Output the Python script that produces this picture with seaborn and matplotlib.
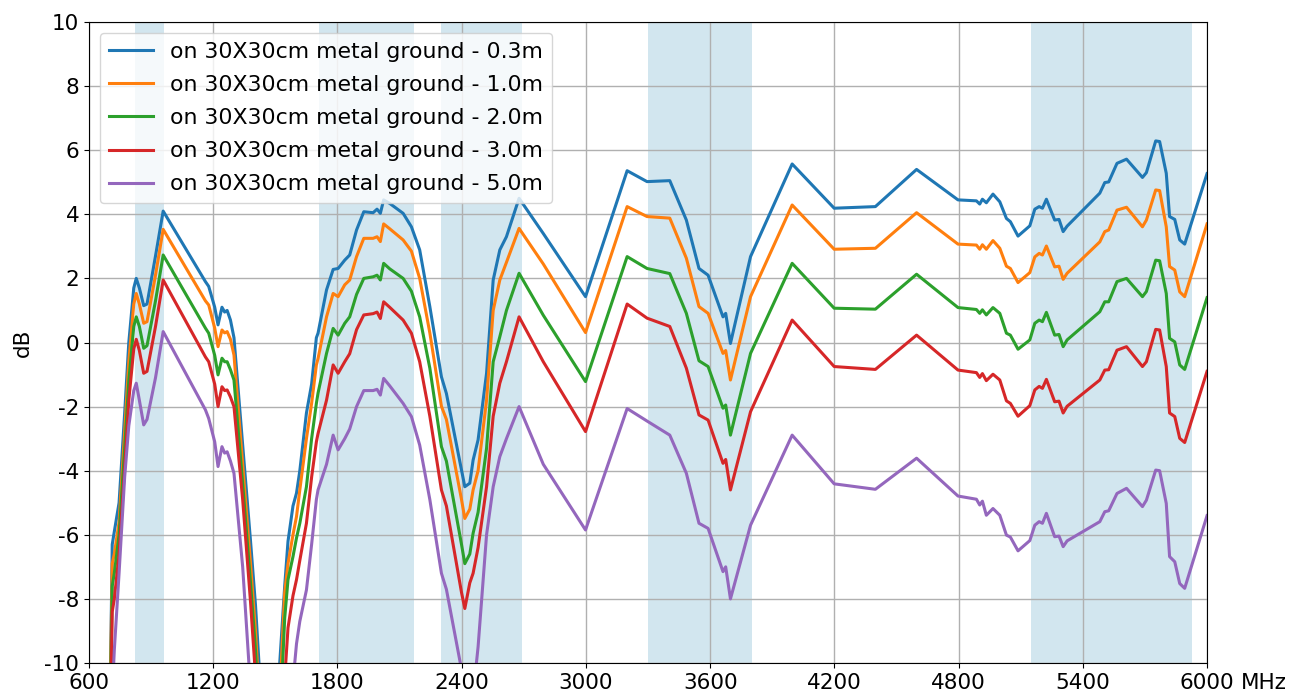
import pandas as pd
import matplotlib
matplotlib.use("Agg")
import matplotlib.pyplot as plt
import seaborn as sns

plt.rcParams['axes.unicode_minus'] = False

# frequency points (MHz), shared by every series
freq_mhz = [
    700, 712, 722, 745, 772, 792, 816, 828, 843, 864, 880, 921, 958, 1162, 1178, 1207, 1223, 1242, 1255, 1267, 1283, 1300,
    1342, 1380, 1404, 1430, 1470, 1510, 1521, 1545, 1561, 1585, 1602, 1618, 1650, 1675, 1698, 1706, 1747, 1779, 1803, 1835,
    1859, 1892, 1927, 1972, 1991, 2007, 2023, 2052, 2117, 2157, 2197, 2246, 2302, 2326, 2399, 2415, 2439, 2455, 2479, 2520,
    2552, 2584, 2616, 2677,
    2794, 2998, 3199, 3295, 3405, 3485, 3546, 3590, 3662, 3675, 3698, 3795, 3996,
    4199, 4398, 4597, 4797, 4886, 4902, 4915, 4934, 4966, 4999, 5031, 5050, 5087,
    5144, 5168, 5189, 5205, 5224, 5264, 5285, 5305, 5324, 5482, 5506, 5525, 5565, 5611, 5688, 5707, 5752, 5771, 5803, 5819,
    5844, 5868, 5892, 6000,
]

db_03m = [
    -12, -6.3, -5.9, -5.0, -2.2, 0.0, 1.7, 2.0, 1.7, 1.15, 1.2, 2.7, 4.1, 1.9, 1.75, 1.1, 0.55, 1.1, 0.95, 1.0, 0.7, 0.15,
    -3.2, -6.2, -8.2, -11, -16, -11.8, -10, -7.6, -6.2, -5.1, -4.7, -4.0, -2.2, -1.3, 0.15, 0.29, 1.64, 2.28, 2.31, 2.57,
    2.73, 3.51, 4.08, 4.05, 4.16, 4.03, 4.45, 4.34, 4.03, 3.61, 2.89, 1.12, -1.07, -1.59, -3.98, -4.5, -4.39, -3.67, -3.04, -0.96,
    1.95, 2.89, 3.3, 4.5,
    3.4, 1.43, 5.36, 5.02, 5.05, 3.82, 2.31, 2.1, 0.8, 0.91, -0.03, 2.68, 5.57,
    4.19, 4.24, 5.4, 4.45, 4.42, 4.32, 4.47, 4.36, 4.63, 4.39, 3.87, 3.77, 3.32,
    3.64, 4.16, 4.24, 4.19, 4.47, 3.82, 3.84, 3.46, 3.63, 4.66, 4.99, 5.01, 5.59, 5.72, 5.15, 5.3, 6.29, 6.27, 5.28, 3.93,
    3.84, 3.2, 3.07, 5.27,
]

db_10m = [
    -12, -6.9, -6.6, -5.6, -2.8, -0.6, 1.2, 1.53, 1.2, 0.6, 0.65, 2.1, 3.53, 1.3, 1.17, 0.45, -0.13, 0.39, 0.3, 0.34, 0.1, -0.39,
    -3.8, -6.9, -9.0, -12, -16, -13, -11, -7.8, -6.9, -6.0, -5.43, -4.6, -3.0, -1.9, -0.7, -0.5, 0.8, 1.53, 1.43, 1.8,
    1.95, 2.68, 3.25, 3.25, 3.3, 3.15, 3.7, 3.55, 3.2, 2.85, 2.0, 0.3, -1.99, -2.4, -4.9, -5.49, -5.2, -4.6, -4.0, -1.8,
    1.0, 1.95, 2.5, 3.56,
    2.45, 0.31, 4.24, 3.93, 3.88, 2.63, 1.12, 0.91, -0.34, -0.25, -1.17, 1.43, 4.29,
    2.91, 2.94, 4.05, 3.07, 3.04, 2.91, 3.05, 2.91, 3.18, 2.94, 2.38, 2.31, 1.87,
    2.18, 2.67, 2.78, 2.73, 3.01, 2.36, 2.38, 1.97, 2.16, 3.14, 3.46, 3.51, 4.13, 4.22, 3.61, 3.82, 4.76, 4.74, 3.61, 2.37,
    2.26, 1.58, 1.43, 3.7,
]

db_20m = [
    -12.5, -7.6, -7.2, -6.0, -3.3, -1.2, 0.5, 0.8, 0.5, -0.18, -0.1, 1.3, 2.73, 0.45, 0.29, -0.4, -1.01, -0.49, -0.6, -0.6, -0.85, -1.17,
    -4.4, -7.5, -9.6, -12.5, -16, -14, -12, -8.6, -7.4, -6.68, -6.1, -5.64, -4.5, -3.0, -1.9, -1.58, -0.34, 0.44, 0.23, 0.6,
    0.8, 1.5, 2.0, 2.05, 2.1, 1.95, 2.47, 2.3, 2.0, 1.6, 0.8, -0.8, -3.25, -3.7, -6.3, -6.9, -6.6, -5.95, -5.3, -3.3,
    -0.6, 0.18, 1.0, 2.16,
    0.85, -1.22, 2.68, 2.31, 2.15, 0.91, -0.57, -0.75, -2.05, -1.95, -2.89, -0.34, 2.47,
    1.07, 1.04, 2.13, 1.09, 1.03, 0.91, 1.02, 0.86, 1.09, 0.91, 0.29, 0.23, -0.21,
    0.08, 0.6, 0.7, 0.65, 0.94, 0.23, 0.25, -0.13, 0.08, 0.96, 1.27, 1.27, 1.9, 2.0, 1.43, 1.59, 2.57, 2.55, 1.53, 0.13,
    0.02, -0.7, -0.84, 1.4,
]

db_30m = [
    -13, -8.4, -8.0, -6.6, -3.9, -1.8, -0.2, 0.1, -0.25, -0.96, -0.9, 0.5, 1.95, -0.45, -0.6, -1.3, -2.0, -1.38, -1.5, -1.48, -1.7, -2.0,
    -4.9, -8.1, -10.4, -13, -16, -15, -13, -10.5, -8.9, -7.9, -7.4, -6.8, -5.64, -4.2, -3.1, -2.84, -1.8, -0.7, -0.96, -0.6,
    -0.35, 0.4, 0.86, 0.9, 0.95, 0.75, 1.27, 1.1, 0.7, 0.29, -0.6, -2.3, -4.6, -5.1, -7.8, -8.3, -7.5, -7.2, -6.4, -4.5,
    -2.3, -1.27, -0.6, 0.8,
    -0.6, -2.78, 1.2, 0.76, 0.5, -0.8, -2.26, -2.42, -3.77, -3.65, -4.6, -2.16, 0.7,
    -0.75, -0.84, 0.23, -0.86, -0.94, -1.09, -0.97, -1.19, -0.99, -1.17, -1.82, -1.9, -2.3,
    -1.97, -1.48, -1.37, -1.43, -1.15, -1.85, -1.83, -2.2, -1.99, -1.17, -0.86, -0.85, -0.24, -0.13, -0.75, -0.6, 0.41, 0.39, -0.75, -2.2,
    -2.31, -2.99, -3.12, -0.9,
]

db_50m = [
    -15, -11, -9.6, -7.2, -4.2, -2.6, -1.5, -1.27, -1.8, -2.57, -2.4, -1.1, 0.34, -2.1, -2.37, -3.1, -3.87, -3.25, -3.45, -3.41, -3.7, -4.08,
    -7.0, -10.8, -13, -15, -18, -17, -16, -14, -12.5, -10.6, -9.4, -8.7, -7.72, -6.3, -4.9, -4.6, -3.8, -2.89, -3.35, -3.0,
    -2.7, -2.0, -1.5, -1.5, -1.46, -1.64, -1.12, -1.35, -1.9, -2.31, -3.2, -4.9, -7.2, -7.7, -10.2, -11.5, -12, -11, -9.5, -6.0,
    -4.5, -3.56, -3.0, -2.0,
    -3.8, -5.85, -2.06, -2.45, -2.89, -4.08, -5.64, -5.8, -7.15, -7.0, -8.0, -5.7, -2.89,
    -4.41, -4.58, -3.61, -4.79, -4.89, -5.07, -4.95, -5.39, -5.18, -5.39, -6.01, -6.07, -6.5,
    -6.18, -5.7, -5.59, -5.64, -5.33, -6.06, -6.04, -6.37, -6.19, -5.59, -5.28, -5.25, -4.71, -4.55, -5.12, -4.92, -3.98, -4.0, -5.02, -6.68,
    -6.84, -7.52, -7.67, -5.4,
]

labels = [
    "on 30X30cm metal ground - 0.3m",
    "on 30X30cm metal ground - 1.0m",
    "on 30X30cm metal ground - 2.0m",
    "on 30X30cm metal ground - 3.0m",
    "on 30X30cm metal ground - 5.0m",
]
series = [db_03m, db_10m, db_20m, db_30m, db_50m]

# shaded frequency bands
band_start = [824, 1710, 2300, 3300, 5150]
band_end = [960, 2170, 2690, 3800, 5925]

frames = []
for lab, vals in zip(labels, series):
    frames.append(pd.DataFrame({"MHz": freq_mhz, "dB": vals, "label": lab}))
df = pd.concat(frames, ignore_index=True)

fig = plt.figure(figsize=(13, 6.96), dpi=100)
ax = fig.add_axes([0.0685, 0.0474, 0.86, 0.921])

for lo, hi in zip(band_start, band_end):
    ax.axvspan(lo, hi, color="#d2e6ef", lw=0, zorder=0)

sns.lineplot(data=df, x="MHz", y="dB", hue="label", palette=sns.color_palette("tab10", 5),
             linewidth=2.2, estimator=None, ax=ax)

ax.set_xlim(600, 6000)
ax.set_ylim(-10, 10)
xt = list(range(600, 6001, 600))
ax.set_xticks(xt)
ax.set_xticklabels([str(v) for v in xt])
ax.set_yticks(range(-10, 11, 2))
ax.tick_params(labelsize=15.5)
ax.grid(True, color="#b0b0b0", linewidth=1.0)
ax.set_axisbelow(True)
ax.set_xlabel("")
ax.set_ylabel("dB", fontsize=15.5, labelpad=8)
ax.annotate("MHz", xy=(6000, -10), xycoords="data", xytext=(24, -7),
            textcoords="offset points", ha="left", va="top", fontsize=15.5)

sns.move_legend(ax, "upper left", title=None, fontsize=15.8, frameon=True, labelspacing=0.6)
for line in ax.get_legend().get_lines():
    line.set_linewidth(2.2)

fig.savefig("out.png", dpi=100)
